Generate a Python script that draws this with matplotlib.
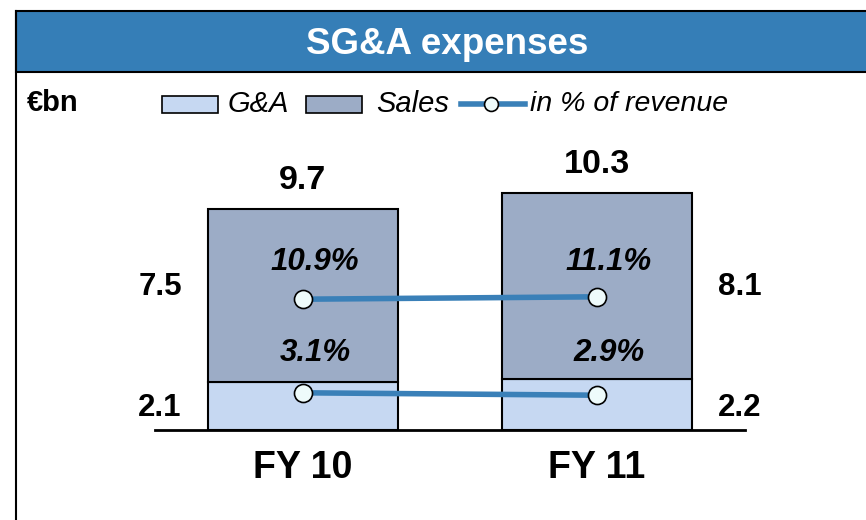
import matplotlib
matplotlib.use("Agg")
import matplotlib.pyplot as plt
from matplotlib.patches import Rectangle
from matplotlib.lines import Line2D

plt.rcParams['font.family'] = ['Liberation Sans', 'DejaVu Sans']

categories = ["FY 10", "FY 11"]
ga = [2.1, 2.2]
sales = [7.5, 8.1]
totals = [9.7, 10.3]
pct_sales = [10.9, 11.1]
pct_ga = [3.1, 2.9]
pct_sales_lbl = ["10.9%", "11.1%"]
pct_ga_lbl = ["3.1%", "2.9%"]

W, H = 866, 520
fig = plt.figure(figsize=(W / 100, H / 100), dpi=100)

def fx(x):
    return x / W

def fy(y):
    return 1 - y / H

# frame & banner
BLUE = "#357EB7"
fig.patches.append(Rectangle((fx(16), fy(72)), fx(W + 10), 61 / H, transform=fig.transFigure,
                             facecolor=BLUE, edgecolor="black", lw=1.5, zorder=0))
fig.add_artist(Line2D([fx(16), fx(16)], [fy(11), 0], transform=fig.transFigure, color="black", lw=1.5))
fig.text(fx(447), fy(44), "SG&A expenses", color="white", fontsize=26.5, fontweight="bold",
         ha="center", va="center")

fig.text(fx(27), fy(103), "€bn", fontsize=21, fontweight="bold", ha="left", va="center")

GA_C = "#C6D8F2"
SALES_C = "#9CACC6"
LINE_C = "#3A80B8"
MK_FACE = "#EEFBFB"

# legend
fig.patches.append(Rectangle((fx(162), fy(113)), 56 / W, 17 / H, transform=fig.transFigure,
                             facecolor=GA_C, edgecolor="black", lw=1.2))
fig.text(fx(228), fy(104), "G&A", fontsize=21, fontstyle="italic", ha="left", va="center")
fig.patches.append(Rectangle((fx(306), fy(113)), 56 / W, 17 / H, transform=fig.transFigure,
                             facecolor=SALES_C, edgecolor="black", lw=1.2))
fig.text(fx(376), fy(104), "Sales", fontsize=21, fontstyle="italic", ha="left", va="center")
fig.add_artist(Line2D([fx(461), fx(525)], [fy(104), fy(104)], transform=fig.transFigure,
                      color=LINE_C, lw=4))
fig.add_artist(Line2D([fx(491)], [fy(104)], transform=fig.transFigure, marker="o",
                      markersize=10, markerfacecolor=MK_FACE, markeredgecolor="black",
                      markeredgewidth=1.2, lw=0))
fig.text(fx(530), fy(104), "in % of revenue", fontsize=20.5, fontstyle="italic", ha="left", va="center")

# axes
ax = fig.add_axes([fx(155), fy(430), 590 / W, 280 / H])
ax.set_xlim(-0.503, 1.503)
ax.set_ylim(0, 280 / 23)
x = list(range(len(categories)))
bw = 190 / 294
ax.bar(x, ga, width=bw, color=GA_C, edgecolor="black", lw=1.5, zorder=2)
ax.bar(x, sales, width=bw, bottom=ga, color=SALES_C, edgecolor="black", lw=1.5, zorder=2)
for s in ["top", "left", "right"]:
    ax.spines[s].set_visible(False)
ax.spines["bottom"].set_linewidth(2)
ax.set_xticks([])
ax.set_yticks([])
ax.patch.set_alpha(0)

px = 72 / 100
n = len(x)
sales_mid = sum(ga[i] + sales[i] / 2 for i in x) / n
ga_mid = sum(ga[i] / 2 for i in x) / n
for i in x:
    ax.annotate(f"{totals[i]:.1f}", (i, ga[i] + sales[i]), xytext=(0, 29 * px), textcoords="offset points",
                ha="center", va="center", fontsize=24.5, fontweight="bold")
    ax.annotate(categories[i], (i, 0), xytext=(0, -38 * px), textcoords="offset points",
                ha="center", va="center", fontsize=27, fontweight="bold", annotation_clip=False)
    side = -1 if i == 0 else 1
    lx = i + side * (bw / 2 + 0.163)
    ax.annotate(f"{sales[i]:.1f}", (lx, sales_mid), xytext=(0, 4 * px), textcoords="offset points",
                ha="center", va="center", fontsize=22.5, fontweight="bold", annotation_clip=False)
    ax.annotate(f"{ga[i]:.1f}", (lx, ga_mid), xytext=(0, -3 * px), textcoords="offset points",
                ha="center", va="center", fontsize=22.5, fontweight="bold", annotation_clip=False)

ax2 = ax.twinx()
ax2.set_ylim(0, 280 / 12)
ax2.axis("off")
for vals, lbls, off in [(pct_sales, pct_sales_lbl, 36), (pct_ga, pct_ga_lbl, 41)]:
    ax2.plot(x, vals, color=LINE_C, lw=4, marker="o", markersize=13, markerfacecolor=MK_FACE,
             markeredgecolor="black", markeredgewidth=1.2, zorder=3)
    ymean = sum(vals) / len(vals)
    for i in x:
        ax2.annotate(lbls[i], (i, ymean), xytext=(12 * px, off * px), textcoords="offset points",
                     ha="center", va="center", fontsize=22.5, fontweight="bold", fontstyle="italic")

fig.savefig("out.png", dpi=100)
